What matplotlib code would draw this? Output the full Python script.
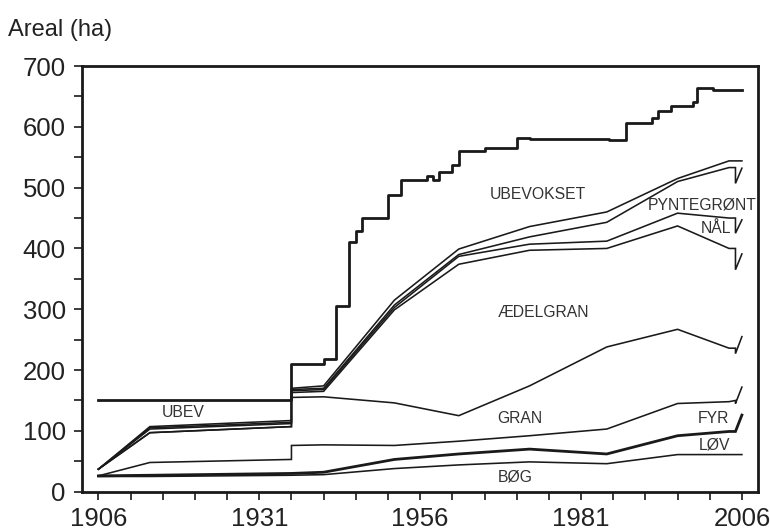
import matplotlib
matplotlib.use("Agg")
import matplotlib.pyplot as plt
from matplotlib.ticker import FixedLocator

plt.rcParams['font.family'] = ['Liberation Sans', 'DejaVu Sans']

# ---- data ----
years = [1906, 1914, 1936, 1936, 1941, 1952, 1962, 1973, 1985, 1996, 2004, 2005, 2005, 2006]

bog   = [25, 25, 27, 27, 28, 38, 44, 49, 46, 61, 61, 61, 61, 61]
lov   = [26, 27, 30, 30, 32, 53, 62, 70, 62, 92, 99, 99, 99, 126]
fyr   = [26, 48, 53, 76, 77, 76, 83, 92, 103, 145, 148, 150, 145, 172]
gran  = [37, 97, 107, 155, 156, 146, 125, 174, 238, 267, 236, 236, 227, 255]
aedel = [37, 97, 107, 163, 165, 299, 374, 397, 400, 437, 400, 400, 365, 391]
naal  = [37, 103, 112, 166, 168, 303, 387, 407, 412, 458, 450, 450, 425, 447]
pynt  = [37, 105, 114, 168, 170, 307, 390, 419, 443, 510, 533, 533, 507, 532]
ovrig = [37, 107, 117, 170, 174, 315, 399, 436, 460, 515, 544, 544, 544, 544]

total_years = [1906, 1936, 1941, 1943, 1945, 1946, 1947, 1951, 1953, 1957, 1958,
               1959, 1961, 1962, 1966, 1971, 1973, 1985.3, 1988, 1992, 1993, 1995,
               1998.4, 1999, 2001.5, 2006]
total_vals = [150, 210, 219, 305, 410, 429, 449.5, 488, 512.5, 519.6, 512.5,
              526, 537, 560, 565.6, 582, 580, 578, 605.7, 614, 626.5, 634.7,
              641, 664, 660.5, 660.5]

labels = ["UBEVOKSET", "PYNTEGRØNT", "NÅL", "ÆDELGRAN", "GRAN", "FYR", "LØV", "BØG", "UBEV"]
label_x = [1974.3, 1999.9, 2002.0, 1975.1, 1971.5, 2001.5, 2001.8, 1970.8, 1919.1]
label_y = [488, 472, 433, 295, 121, 121, 77, 24, 131]

x_major = [1906, 1931, 1956, 1981, 2006]
x_minor = list(range(1906, 2007, 5))
y_major = [0, 100, 200, 300, 400, 500, 600, 700]
y_minor = list(range(50, 700, 100))

# ---- figure ----
fig = plt.figure(figsize=(7.7, 5.32), dpi=100)
ax = fig.add_axes([0.1069, 0.0758, 0.8775, 0.8001])

ink = "#1a1a1a"
thin = 1.15
for ser in [bog, fyr, gran, aedel, naal, pynt, ovrig]:
    ax.plot(years, ser, color=ink, lw=thin, solid_joinstyle='miter')
ax.plot(years, lov, color=ink, lw=2.0, solid_joinstyle='miter')
ax.step(total_years, total_vals, where='post', color=ink, lw=2.0)

for t, x, y in zip(labels, label_x, label_y):
    ax.text(x, y, t, ha='center', va='center', fontsize=11.3, color="#333333")

ax.set_xlim(1903.5, 2008.5)
ax.set_ylim(0, 700)
ax.xaxis.set_major_locator(FixedLocator(x_major))
ax.xaxis.set_minor_locator(FixedLocator(x_minor))
ax.yaxis.set_major_locator(FixedLocator(y_major))
ax.yaxis.set_minor_locator(FixedLocator(y_minor))
ax.set_xticklabels([str(v) for v in x_major])

for s in ax.spines.values():
    s.set_linewidth(2.0)
    s.set_color(ink)

ax.tick_params(axis='both', which='both', direction='out', length=6, width=1.2,
               color=ink, labelsize=18.5, labelcolor="#222222")
ax.tick_params(axis='y', which='major', pad=6)
ax.tick_params(axis='x', which='major', pad=5)

fig.text(8/770, 1 - 30/532, "Areal (ha)", ha='left', va='center', fontsize=17, color="#222222")

fig.savefig("out.png", dpi=100)
